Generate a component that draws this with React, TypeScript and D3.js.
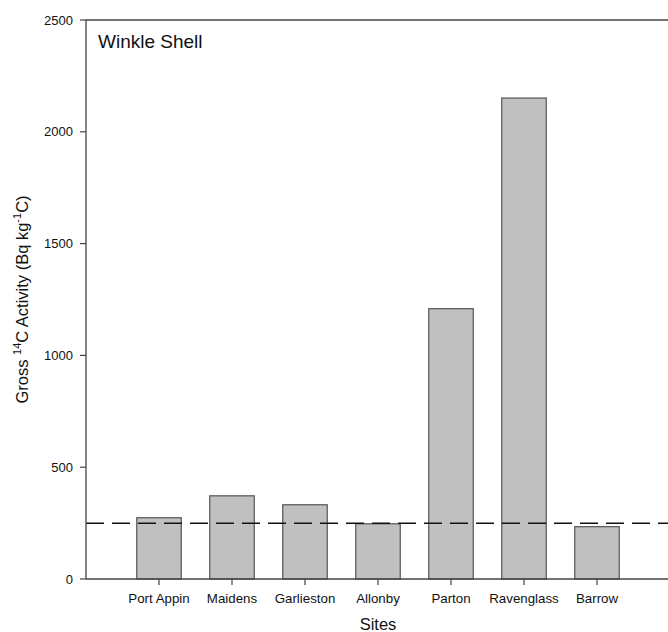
import React from "react";
import * as d3 from "d3";

const sites = ["Port Appin", "Maidens", "Garlieston", "Allonby", "Parton", "Ravenglass", "Barrow"];
const activity = [274, 372, 332, 247, 1209, 2151, 234];
const yTicks = [0, 500, 1000, 1500, 2000, 2500];
const referenceLevel = 249;

export default function App() {
  const W = 668, H = 632;
  const left = 86, top = 20, bottom = 579;
  const x = d3.scaleLinear().domain([0, sites.length + 1]).range([left, left + 73 * (sites.length + 1)]);
  const y = d3.scaleLinear().domain([0, 2500]).range([bottom, top]);
  const bw = 44.5;
  const font = "'Liberation Sans', Arial, sans-serif";
  const axisColor = "#444";
  return (
    <svg width={W} height={H} style={{ position: "absolute", left: 0, top: 0, background: "#fff" }} fontFamily={font}>
      {activity.map((v, i) => (
        <rect key={i} x={x(i + 1) - bw / 2} y={y(v)} width={bw} height={y(0) - y(v)}
          fill="#c0c0c0" stroke="#555" strokeWidth={1.2} />
      ))}
      <line x1={left} x2={W} y1={y(referenceLevel)} y2={y(referenceLevel)} stroke="#111" strokeWidth={1.5} strokeDasharray="18,8" />
      <line x1={left} x2={left} y1={top} y2={bottom} stroke={axisColor} strokeWidth={1.3} />
      <line x1={left} x2={W} y1={bottom} y2={bottom} stroke={axisColor} strokeWidth={1.3} />
      <line x1={left} x2={W} y1={top} y2={top} stroke={axisColor} strokeWidth={1.3} />
      {yTicks.map((t) => (
        <g key={t}>
          <line x1={left - 6} x2={left} y1={y(t)} y2={y(t)} stroke={axisColor} strokeWidth={1.2} />
          <text x={left - 13} y={y(t)} dy="0.35em" textAnchor="end" fontSize={13} fill="#111">{t}</text>
        </g>
      ))}
      {sites.map((s, i) => (
        <g key={s}>
          <line x1={x(i + 1)} x2={x(i + 1)} y1={bottom} y2={bottom + 6} stroke={axisColor} strokeWidth={1.2} />
          <text x={x(i + 1)} y={bottom + 24} textAnchor="middle" fontSize={13.3} fill="#111">{s}</text>
        </g>
      ))}
      <text x={x(4)} y={630} textAnchor="middle" fontSize={16.5} fill="#111">Sites</text>
      <text transform={`translate(28,${(top + bottom) / 2}) rotate(-90)`} textAnchor="middle" fontSize={16.5} fill="#111">
        Gross <tspan dy={-7} fontSize={11}>14</tspan><tspan dy={7}>C Activity (Bq kg</tspan><tspan dy={-7} fontSize={11}>-1</tspan><tspan dy={7}>C)</tspan>
      </text>
      <text x={98} y={48} fontSize={19} fill="#111">Winkle Shell</text>
    </svg>
  );
}
